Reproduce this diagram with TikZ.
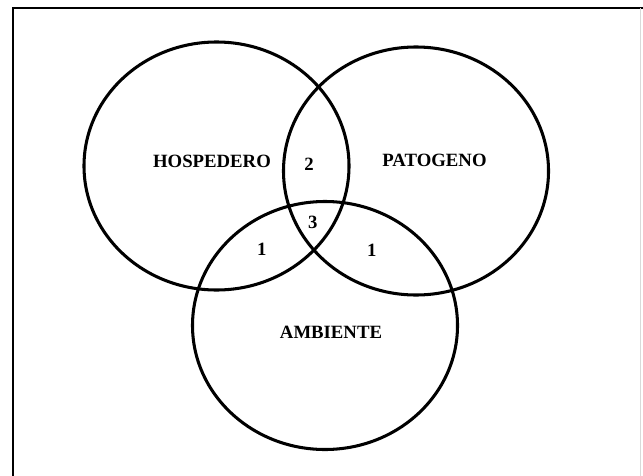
\documentclass[tikz,border=0pt]{standalone}
\usepackage{fontspec}
\setmainfont{Liberation Serif}

\begin{document}
\begin{tikzpicture}[
  x=0.03cm, y=-0.03cm,
  ring/.style={line width=2.6pt},
  tag/.style={font=\fontsize{16}{18}\selectfont\bfseries, inner sep=0pt}
]
  \useasboundingbox (0,0) rectangle (643,476);
  % frame
  \draw[line width=2.4pt] (13,476) -- (13,8) -- (643,8);
  \draw[gray!30,line width=0.6pt] (640,8) -- (640,476);
  % the three sets
  \draw[ring] (216.5,166) ellipse [x radius=3.975cm, y radius=3.72cm];
  \draw[ring] (416,171) ellipse [x radius=3.975cm, y radius=3.72cm];
  \draw[ring] (325,325.5) ellipse [x radius=3.975cm, y radius=3.72cm];
  % labels
  \node[tag] (hosp) at (212,161) {HOSPEDERO};
  \node[tag] (pat) at (434.5,160.5) {PATOGENO};
  \node[tag] (amb) at (331,332.5) {AMBIENTE};
  \node[tag] (hp) at (309,164) {2};
  \node[tag] (hpa) at (312.7,222.5) {3};
  \node[tag] (ha) at (261.7,249.5) {1};
  \node[tag] (pa) at (371.7,250) {1};
\end{tikzpicture}
\end{document}
